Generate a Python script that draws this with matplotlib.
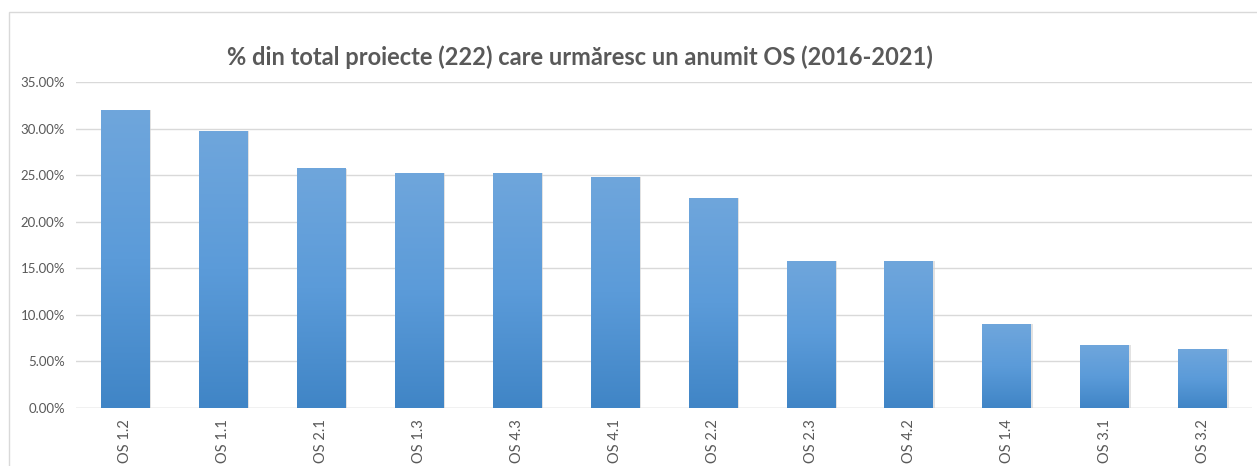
import numpy as np
import matplotlib
matplotlib.use("Agg")
import matplotlib.pyplot as plt
from matplotlib.colors import LinearSegmentedColormap
from matplotlib.patches import Rectangle
from matplotlib.ticker import FuncFormatter

categories = ["OS 1.2", "OS 1.1", "OS 2.1", "OS 1.3", "OS 4.3", "OS 4.1",
              "OS 2.2", "OS 2.3", "OS 4.2", "OS 1.4", "OS 3.1", "OS 3.2"]
values = [31.98, 29.73, 25.68, 25.23, 25.23, 24.77,
          22.52, 15.77, 15.77, 9.01, 6.76, 6.31]
title = "% din total proiecte (222) care urmăresc un anumit OS (2016-2021)"

plt.rcParams["font.family"] = ["Lato", "DejaVu Sans"]
txt = "#595959"

fig = plt.figure(figsize=(12.57, 4.66), dpi=100)
ax = fig.add_axes([0.0605, 0.1245, 0.9355, 0.6995])

# cadre du graphique
fig.patches.append(Rectangle((9 / 1257, -0.01), 1.1, 1 - 12 / 466 + 0.01,
                             transform=fig.transFigure, fill=False,
                             edgecolor="#d9d9d9", lw=1))

x = np.arange(len(categories))
bars = ax.bar(x, values, width=0.5, color="none", zorder=3)
cmap = LinearSegmentedColormap.from_list("grad", ["#4085c6", "#5b9bd9", "#6fa6dc"])
grad = np.linspace(0, 1, 256).reshape(-1, 1)
for b in bars:
    x0, y0, w, h = b.get_x(), b.get_y(), b.get_width(), b.get_height()
    # ombre légère
    ax.add_patch(Rectangle((x0 + 0.012, y0), w, h, facecolor="#cfcfcf",
                           edgecolor="none", alpha=0.6, zorder=2))
    ax.imshow(grad, extent=[x0, x0 + w, y0, y0 + h], origin="lower",
              cmap=cmap, aspect="auto", zorder=3)

ax.set_xlim(-0.5, len(categories) - 0.5)
ax.set_ylim(0, 35)
ax.set_yticks(np.arange(0, 35.1, 5))
ax.yaxis.set_major_formatter(FuncFormatter(lambda v, p: f"{v:.2f}%"))
ax.set_xticks(x)
ax.set_xticklabels(categories, rotation=90)
ax.tick_params(axis="both", length=0, colors=txt, labelsize=9.5)
ax.tick_params(axis="x", labelsize=10.5, pad=8)
ax.tick_params(axis="y", pad=8)
ax.grid(axis="y", color="#d9d9d9", lw=1, zorder=0)
for s in ax.spines.values():
    s.set_visible(False)
ax.axhline(0, color="#d9d9d9", lw=1, zorder=1)

fig.text(580 / 1257, 1 - 57 / 466, title, ha="center", va="center",
         fontsize=17, fontweight="bold", color=txt)

fig.savefig("out.png", dpi=100)
